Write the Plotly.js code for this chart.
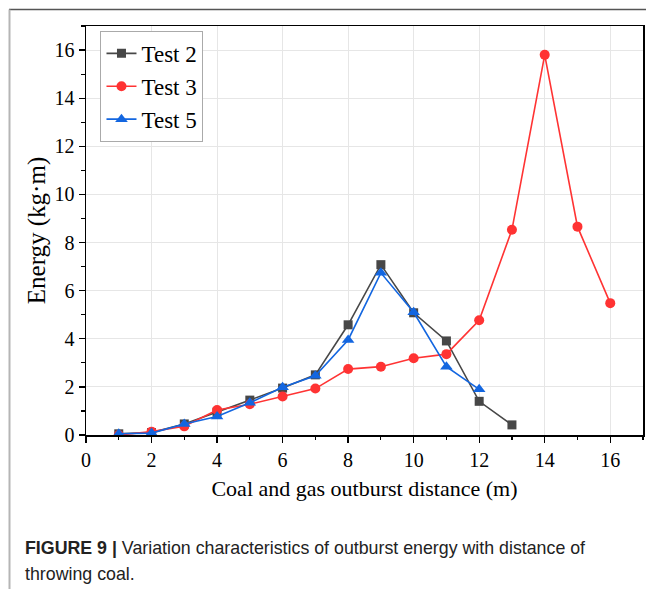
<!DOCTYPE html>
<html>
<head>
<meta charset="utf-8">
<script src="https://cdn.plot.ly/plotly-3.0.1.min.js"></script>
<style>html,body{margin:0;padding:0;background:#fff;}#chart{width:646px;height:589px;}</style>
</head>
<body>
<div id="chart"></div>
<script>
const test2X = [1,2,3,4,5,6,7,8,9,10,11,12,13];
const test2Y = [0.05,0.1,0.46,0.95,1.45,1.95,2.5,4.58,7.08,5.08,3.91,1.4,0.42];
const test3X = [1,2,3,4,5,6,7,8,9,10,11,12,13,14,15,16];
const test3Y = [0.0,0.14,0.36,1.04,1.28,1.6,1.93,2.74,2.84,3.19,3.36,4.77,8.53,15.8,8.66,5.48];
const test5X = [1,2,3,4,5,6,7,8,9,10,11,12];
const test5Y = [0.05,0.08,0.46,0.77,1.34,1.98,2.46,3.95,6.74,5.1,2.84,1.9];
const seriesNames = ["Test 2","Test 3","Test 5"];
const xTitle = "Coal and gas outburst distance (m)";
const yTitle = "Energy (kg·m)";
const captionLine1 = "<b>FIGURE 9 |</b> Variation characteristics of outburst energy with distance of";
const captionLine2 = "throwing coal.";

const serif = "Liberation Serif";
const traces = [
  {x:test2X, y:test2Y, name:seriesNames[0], mode:"lines+markers",
   line:{color:"#474747", width:1.6}, marker:{symbol:"square", size:9, color:"#474747"}},
  {x:test3X, y:test3Y, name:seriesNames[1], mode:"lines+markers",
   line:{color:"#ff3333", width:1.6}, marker:{symbol:"circle", size:10, color:"#ff3333"}},
  {x:test5X, y:test5Y, name:seriesNames[2], mode:"lines+markers",
   line:{color:"#1366e0", width:1.6}, marker:{symbol:"triangle-up", size:11, color:"#1366e0"}}
];

const axisCommon = {
  showline:true, linecolor:"#000", linewidth:1.5, mirror:true,
  ticks:"outside", ticklen:6, tickwidth:1.3, tickcolor:"#000",
  showgrid:true, gridcolor:"#e6e6e6", gridwidth:1, zeroline:false,
  tickfont:{family:serif, size:20, color:"#000"},
  minor:{dtick:1, ticks:"outside", ticklen:3.5, tickwidth:1.2, tickcolor:"#000", showgrid:false}
};

const layout = {
  width:646, height:589,
  paper_bgcolor:"#fff", plot_bgcolor:"#fff",
  margin:{l:86, r:3, t:26, b:154},
  showlegend:true,
  legend:{x:0.026, y:0.988, xanchor:"left", yanchor:"top",
    font:{family:serif, size:23, color:"#000"},
    bordercolor:"#aaaaaa", borderwidth:1, bgcolor:"#fff", tracegroupgap:0},
  xaxis:Object.assign({}, axisCommon, {range:[0,17], dtick:2, tick0:0,
    title:{text:xTitle, font:{family:serif, size:22, color:"#000"}, standoff:11}}),
  yaxis:Object.assign({}, axisCommon, {range:[0,17], dtick:2, tick0:0,
    title:{text:yTitle, font:{family:serif, size:25, color:"#000"}, standoff:2}}),
  shapes:[
    {type:"line", xref:"paper", yref:"paper", x0:(9-86)/557, x1:(646-86)/557, y0:(589-154-9.5)/409, y1:(589-154-9.5)/409,
     line:{color:"#555", width:1.5}},
    {type:"line", xref:"paper", yref:"paper", x0:(9.5-86)/557, x1:(9.5-86)/557, y0:(589-154-9.5)/409, y1:(435-589)/409,
     line:{color:"#b5b5b5", width:2}}
  ],
  annotations:[
    {xref:"paper", yref:"paper", x:(23-86)/557, y:(435-548)/409, xanchor:"left", yanchor:"middle",
     text:captionLine1, showarrow:false, align:"left",
     font:{family:"Liberation Sans", size:17.8, color:"#222"}},
    {xref:"paper", yref:"paper", x:(23-86)/557, y:(435-574)/409, xanchor:"left", yanchor:"middle",
     text:captionLine2, showarrow:false, align:"left",
     font:{family:"Liberation Sans", size:17.8, color:"#222"}}
  ]
};

Plotly.newPlot("chart", traces, layout, {displayModeBar:false, staticPlot:true});
</script>
</body>
</html>
